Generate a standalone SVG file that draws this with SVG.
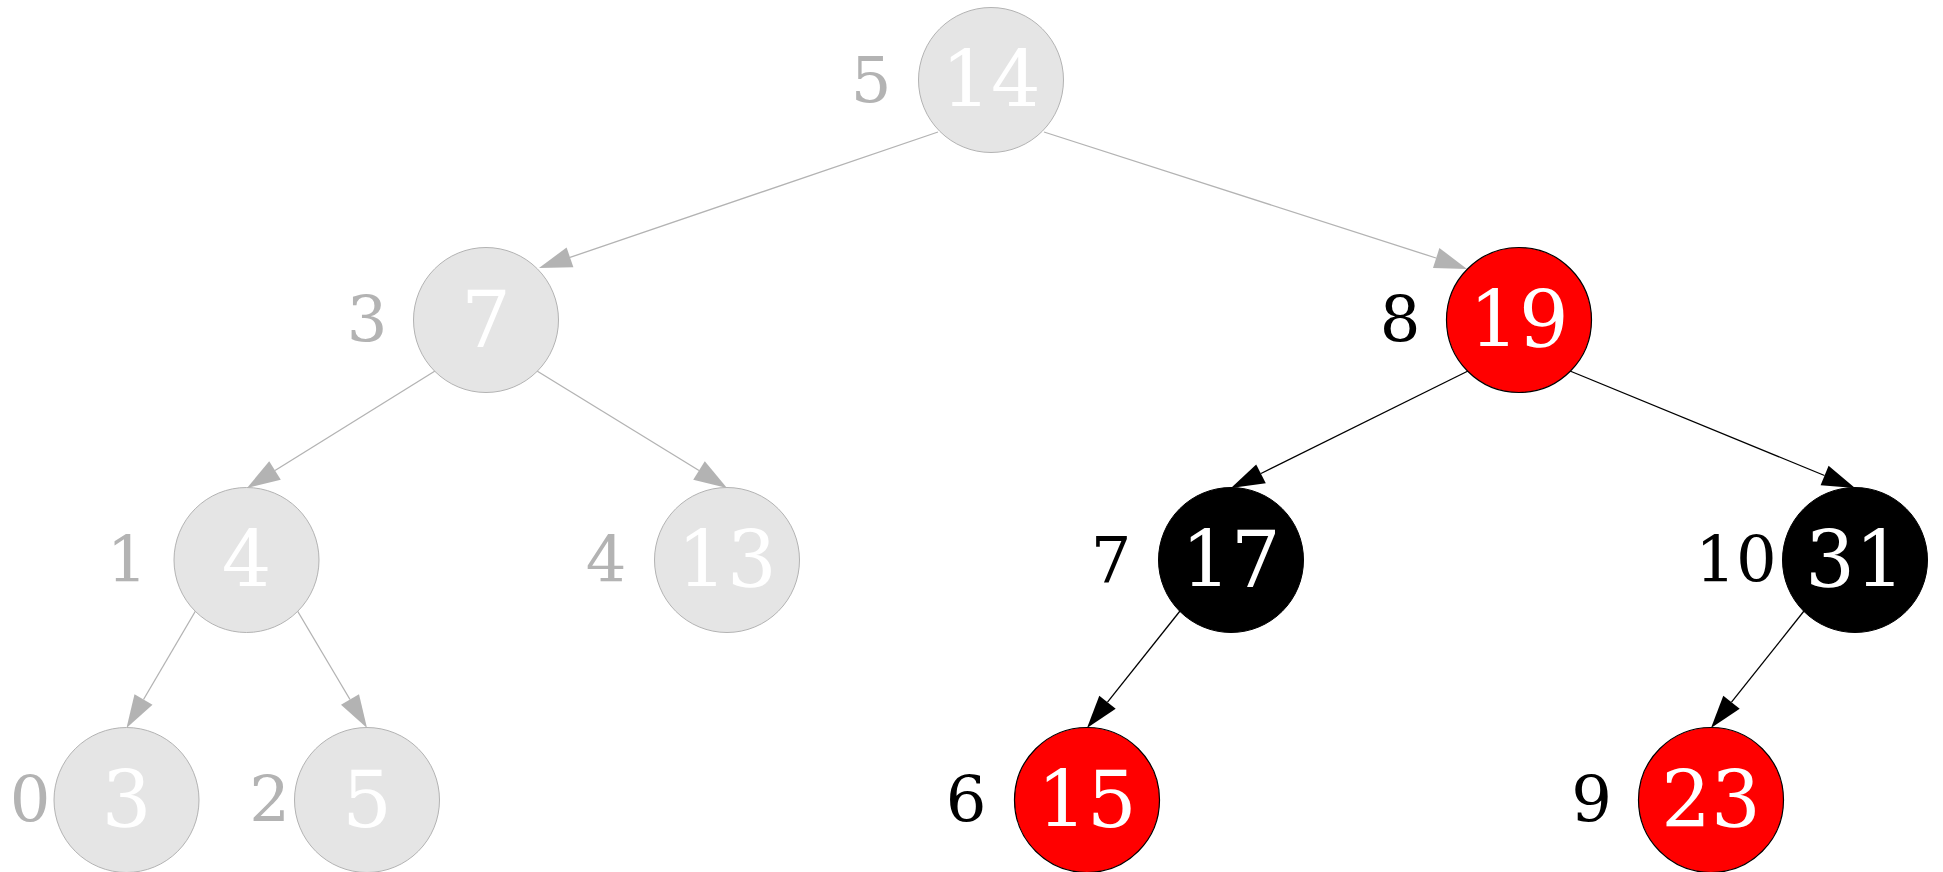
<svg xmlns="http://www.w3.org/2000/svg" width="1943" height="872" viewBox="0 0 1943 872">
<style>
.num{font-family:"DejaVu Serif",serif;font-size:78px;fill:#ffffff;text-anchor:middle}
.idx{font-family:"DejaVu Serif",serif;font-size:64px;text-anchor:middle}
.gi{fill:#b3b3b3}
.bi{fill:#000000}
.gc{fill:#e5e5e5;stroke:#b3b3b3;stroke-width:1}
.rc{fill:#ff0000;stroke:#000000;stroke-width:1.2}
.kc{fill:#000000;stroke:#000000;stroke-width:1}
.ge{stroke:#b3b3b3;stroke-width:1.3;fill:none}
.be{stroke:#000000;stroke-width:1.3;fill:none}
.ga{fill:#b3b3b3}
.ba{fill:#000000}
</style>
<rect width="1943" height="872" fill="#ffffff"/>
<g id="edges">
<line class="ge" x1="938" y1="132" x2="570" y2="257.4"/>
<polygon class="ga" points="539,268 566.6,247.5 573.4,267.3"/>
<line class="ge" x1="1044" y1="132" x2="1436" y2="258"/>
<polygon class="ga" points="1467,269 1439.4,248 1433,268"/>
<line class="ge" x1="435" y1="371" x2="275" y2="470.5"/>
<polygon class="ga" points="247,488 269.2,461.2 280.8,479.8"/>
<line class="ge" x1="537" y1="371" x2="699" y2="470.5"/>
<polygon class="ga" points="727,488 693.2,479.8 704.8,461.2"/>
<line class="be" x1="1468" y1="371" x2="1261" y2="473.5"/>
<polygon class="ba" points="1231,488 1256.2,464.4 1265.8,483.2"/>
<line class="be" x1="1570" y1="371" x2="1824.5" y2="475.5"/>
<polygon class="ba" points="1855,488 1820.6,485.3 1828.6,465.8"/>
<line class="ge" x1="195.5" y1="611" x2="143.5" y2="699.5"/>
<polygon class="ga" points="126.5,728 134.5,694.2 152.5,704.8"/>
<line class="ge" x1="297.5" y1="611" x2="350" y2="699.5"/>
<polygon class="ga" points="367,728 341,704.8 359,694.2"/>
<line class="be" x1="1180" y1="611" x2="1107.5" y2="702.2"/>
<polygon class="ba" points="1087,728 1099.3,695.7 1115.7,708.7"/>
<line class="be" x1="1804" y1="611" x2="1731.5" y2="702.2"/>
<polygon class="ba" points="1711,728 1723.3,695.7 1739.7,708.7"/>
</g>
<g id="n14">
<circle class="gc" cx="991" cy="80" r="72.5"/>
<text class="idx gi" x="871" y="102">5</text>
<text class="num" x="991" y="107">14</text>
</g>
<g id="n7">
<circle class="gc" cx="486" cy="320" r="72.5"/>
<text class="idx gi" x="367" y="342">3</text>
<text class="num" x="486" y="347">7</text>
</g>
<g id="n19">
<circle class="rc" cx="1519" cy="320" r="72.5"/>
<text class="idx bi" x="1400" y="342">8</text>
<text class="num" x="1519" y="347">19</text>
</g>
<g id="n4">
<circle class="gc" cx="246.5" cy="560" r="72.5"/>
<text class="idx gi" x="127" y="582">1</text>
<text class="num" x="246.5" y="587">4</text>
</g>
<g id="n13">
<circle class="gc" cx="727" cy="560" r="72.5"/>
<text class="idx gi" x="606" y="582">4</text>
<text class="num" x="727" y="587">13</text>
</g>
<g id="n17">
<circle class="kc" cx="1231" cy="560" r="72.5"/>
<text class="idx bi" x="1111" y="582">7</text>
<text class="num" x="1231" y="587">17</text>
</g>
<g id="n31">
<circle class="kc" cx="1855" cy="560" r="72.5"/>
<text class="idx bi" x="1736" y="582">10</text>
<text class="num" x="1855" y="587">31</text>
</g>
<g id="n3">
<circle class="gc" cx="126.5" cy="800" r="72.5"/>
<text class="idx gi" x="30" y="822">0</text>
<text class="num" x="126.5" y="827">3</text>
</g>
<g id="n5">
<circle class="gc" cx="367" cy="800" r="72.5"/>
<text class="idx gi" x="269.5" y="822">2</text>
<text class="num" x="367" y="827">5</text>
</g>
<g id="n15">
<circle class="rc" cx="1087" cy="800" r="72.5"/>
<text class="idx bi" x="966" y="822">6</text>
<text class="num" x="1087" y="827">15</text>
</g>
<g id="n23">
<circle class="rc" cx="1711" cy="800" r="72.5"/>
<text class="idx bi" x="1591.5" y="822">9</text>
<text class="num" x="1711" y="827">23</text>
</g>
</svg>
